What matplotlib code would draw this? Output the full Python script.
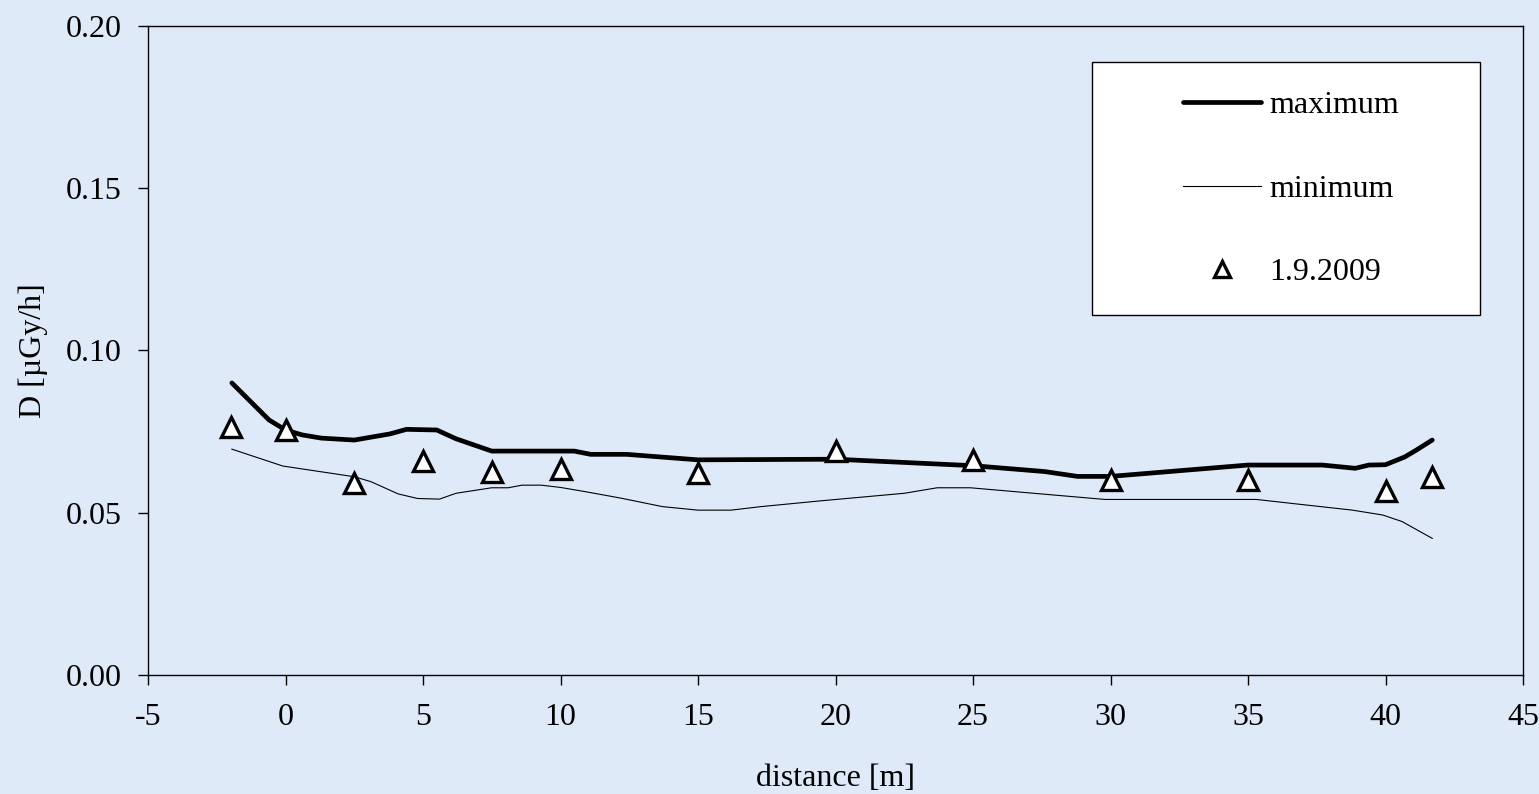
import matplotlib
matplotlib.use("Agg")
import matplotlib.pyplot as plt
from matplotlib.ticker import FormatStrFormatter, MultipleLocator
from matplotlib.patches import Rectangle

# ---- data ----
max_x = [-1.95, -0.6, 0.0, 0.6, 1.3, 2.5, 3.8, 4.4, 5.5, 6.2, 7.5, 10.5, 11.1, 12.4,
         15.0, 20.0, 25.0, 27.6, 28.8, 30.0, 35.0, 37.7, 38.9, 39.4, 40.0, 40.7, 41.1, 41.7]
max_y = [0.0900, 0.0786, 0.0755, 0.0740, 0.0730, 0.0724, 0.0743, 0.0757, 0.0755, 0.0728,
         0.0690, 0.0690, 0.0680, 0.0680, 0.0663, 0.0665, 0.0645, 0.0627, 0.0612, 0.0612,
         0.0647, 0.0647, 0.0637, 0.0647, 0.0648, 0.0672, 0.0692, 0.0724]

min_x = [-1.95, -0.1, 2.5, 3.1, 4.1, 4.8, 5.6, 6.2, 7.5, 8.1, 8.6, 9.3, 10.0, 10.9, 12.2,
         13.7, 15.0, 16.2, 17.3, 19.5, 22.5, 23.7, 24.9, 26.8, 29.8, 35.3, 37.1, 38.8,
         39.9, 40.6, 41.7]
min_y = [0.0696, 0.0644, 0.0611, 0.0596, 0.0558, 0.0544, 0.0542, 0.0560, 0.0577, 0.0577,
         0.0585, 0.0585, 0.0578, 0.0565, 0.0545, 0.0519, 0.0508, 0.0508, 0.0519, 0.0537,
         0.0560, 0.0577, 0.0577, 0.0563, 0.0541, 0.0541, 0.0524, 0.0508, 0.0493, 0.0473,
         0.0421]

meas_x = [-2, 0, 2.5, 5, 7.5, 10, 15, 20, 25, 30, 35, 40, 41.7]
meas_y = [0.0763, 0.0755, 0.0591, 0.0660, 0.0627, 0.0635, 0.0623, 0.0689, 0.0662,
          0.0600, 0.0600, 0.0567, 0.0609]

series_labels = ["maximum", "minimum", "1.9.2009"]
x_label = "distance [m]"
y_label = "D [µGy/h]"

# ---- figure ----
W, H = 1539, 794
plt.rcParams['font.family'] = ['Liberation Serif', 'DejaVu Serif']
plt.rcParams['axes.unicode_minus'] = False
bg = '#dfeaf8'
fig = plt.figure(figsize=(W / 100, H / 100), dpi=100, facecolor=bg)

left, right, top, bottom = 148, 1523, 26, 675
ax = fig.add_axes([left / W, 1 - bottom / H, (right - left) / W, (bottom - top) / H])
ax.set_facecolor(bg)

l1, = ax.plot(max_x, max_y, color='black', lw=3.4, solid_capstyle='round',
              solid_joinstyle='round', label=series_labels[0], zorder=3)
l2, = ax.plot(min_x, min_y, color='black', lw=0.8, label=series_labels[1], zorder=3)
l3, = ax.plot(meas_x, meas_y, linestyle='none', marker='^', markersize=14,
              markerfacecolor='white', markeredgecolor='black', markeredgewidth=2.4,
              label=series_labels[2], zorder=4)

ax.set_xlim(-5, 45)
ax.set_ylim(0, 0.20)
ax.xaxis.set_major_locator(MultipleLocator(5))
ax.yaxis.set_major_locator(MultipleLocator(0.05))
ax.yaxis.set_major_formatter(FormatStrFormatter('%.2f'))

fs = 23
ax.tick_params(axis='both', direction='out', length=7, width=1, labelsize=fs,
               colors='black')
ax.tick_params(axis='x', pad=13)
ax.tick_params(axis='y', pad=12)
for s in ax.spines.values():
    s.set_linewidth(1.0)
    s.set_color('black')

ax.set_xlabel(x_label, fontsize=fs, labelpad=23)
ax.set_ylabel(y_label, fontsize=fs, labelpad=13)

# legend box
bx0, by0, bx1, by1 = 1092, 62, 1480, 315
fig.patches.append(Rectangle((bx0 / W, 1 - by1 / H), (bx1 - bx0) / W, (by1 - by0) / H,
                             transform=fig.transFigure, facecolor='white',
                             edgecolor='black', linewidth=1.0, zorder=5))
leg = fig.legend(handles=[l1, l2, l3], loc='center',
                 bbox_to_anchor=(1291 / W, 1 - 189 / H), frameon=False,
                 fontsize=fs, handlelength=2.45, handletextpad=0.25,
                 labelspacing=1.69, borderpad=0, markerscale=0.85)
leg.set_zorder(6)

fig.savefig('out.png', dpi=100, facecolor=bg)
